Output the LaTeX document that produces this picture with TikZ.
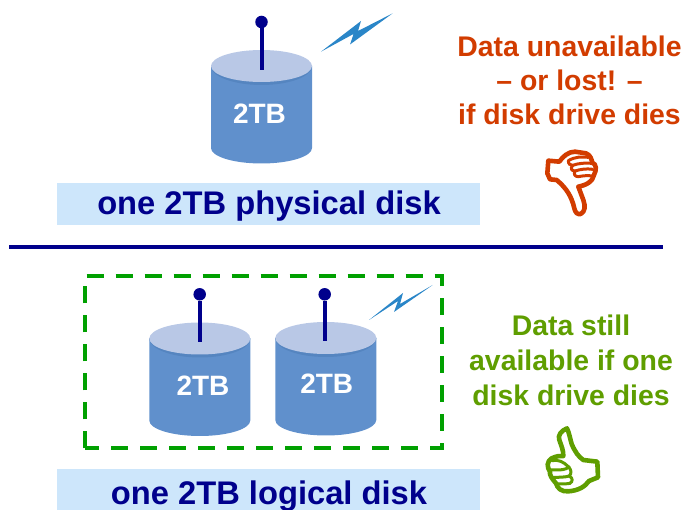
\documentclass[tikz,border=0pt]{standalone}
\usepackage{fontspec}
\setmainfont{Liberation Sans}
\definecolor{navy}{HTML}{00008C}
\definecolor{diskbody}{HTML}{6090CC}
\definecolor{disktop}{HTML}{B9C8E6}
\definecolor{diskrim}{HTML}{5585C0}
\definecolor{band}{HTML}{CDE6FB}
\definecolor{boltblue}{HTML}{2A86C8}
\definecolor{bad}{HTML}{D23C00}
\definecolor{good}{HTML}{5F9E00}
\definecolor{dashgreen}{HTML}{00A000}
\tikzset{
  x=1pt,y=-1pt,
  bandbox/.style={fill=band,draw=none},
  bandtext/.style={font=\bfseries\fontsize{32.7}{33}\selectfont,text=navy,inner sep=0pt},
  disktext/.style={font=\bfseries\fontsize{28}{28}\selectfont,text=white,inner sep=0pt},
  badtext/.style={font=\bfseries\fontsize{28.4}{34}\selectfont,text=bad,align=center,inner sep=0pt},
  goodtext/.style={font=\bfseries\fontsize{28.4}{35}\selectfont,text=good,align=center,inner sep=0pt},
  thumbline/.style={line width=4.6pt,line join=round,line cap=round,fill=white},
  fingerline/.style={line width=3pt,line cap=round},
  antenna/.style={draw=navy,line width=4pt},
  antennatip/.style={circle,fill=navy,inner sep=0pt,minimum size=12.5pt},
  pics/disk/.style={code={
    \fill[diskbody] (-50.5,0) -- (-50.5,82) arc[start angle=180,end angle=0,x radius=50.5,y radius=15.5] -- (50.5,0) -- cycle;
    \fill[diskrim] (-50.5,0) arc[start angle=180,end angle=0,x radius=50.5,y radius=19] -- cycle;
    \fill[disktop] (0,0) ellipse[x radius=50.5,y radius=16];
  }},
}
\begin{document}
\begin{tikzpicture}
\useasboundingbox (0,0) rectangle (683,510);
% top half
\path[bandbox] (57,183) rectangle (480,225);
\node[bandtext] (toplabel) at (269,206) {one 2TB physical disk};
\pic at (261.5,66) {disk};
\node[antennatip] (tip1) at (261.5,22) {};
\coordinate (foot1) at (261.5,70);
\draw[antenna] (tip1) -- (foot1);
\node[disktext] (d1) at (259.5,113.5) {2TB};
\fill[boltblue] (321,51.7) -- (361,21) -- (358,31) -- (392.7,13.3) -- (350,44.5) -- (353.5,34) -- cycle;
\node[badtext] (badmsg) at (569.5,80) {Data unavailable\\– or lost! –\\if disk drive dies};
% thumb down
\begin{scope}[shift={(520,140)},x=0.3333pt,y=-0.3333pt]
\draw[bad,thumbline] (85,62) -- (118,65) .. controls (128,50) and (145,35) .. (165,35) -- (198,40) .. controls (212,45) and (215,60) .. (217,68) .. controls (230,72) and (230,90) .. (222,105) .. controls (218,125) and (200,135) .. (175,140) -- (190,180) .. controls (197,200) and (195,215) .. (182,222) .. controls (172,224) and (166,218) .. (163,205) .. controls (155,170) and (140,145) .. (110,120) -- (90,118) -- (82,100) -- cycle;
\draw[bad,fingerline] (145,62) .. controls (165,50) and (185,50) .. (205,52);
\draw[bad,fingerline] (145,62) .. controls (145,72) and (150,76) .. (158,76) .. controls (175,70) and (195,68) .. (215,70);
\draw[bad,fingerline] (158,76) .. controls (150,85) and (155,93) .. (165,93) .. controls (180,88) and (200,85) .. (218,88);
\draw[bad,fingerline] (165,93) .. controls (160,103) and (165,110) .. (175,110) .. controls (190,107) and (205,106) .. (216,108);
\end{scope}
% divider
\coordinate (divL) at (9,247);
\coordinate (divR) at (663,247);
\draw[navy,line width=3.4pt] (divL) -- (divR);
% bottom half
\draw[dashgreen,line width=3.6pt,dash pattern=on 17pt off 12pt] (84.7,448.3) -- (84.7,276.3) -- (441.7,276.3) -- (441.7,448.3) -- cycle;
\pic at (199.8,338.5) {disk};
\pic at (325.8,338) {disk};
\node[antennatip] (tip2) at (199.7,294.3) {};
\coordinate (foot2) at (199.7,342);
\draw[antenna] (tip2) -- (foot2);
\node[antennatip] (tip3) at (324.7,294.3) {};
\coordinate (foot3) at (324.7,341);
\draw[antenna] (tip3) -- (foot3);
\node[disktext] (d2) at (203,385.7) {2TB};
\node[disktext] (d3) at (326.7,384) {2TB};
\fill[boltblue] (369,320) -- (403,293) -- (400,304) -- (432.7,285) -- (394,312) -- (398,301) -- cycle;
\path[bandbox] (57,469) rectangle (480,510);
\node[bandtext] (botlabel) at (269,496) {one 2TB logical disk};
\node[goodtext] (goodmsg) at (571,360) {Data still\\available if one\\disk drive dies};
% thumb up
\begin{scope}[shift={(520,420)},x=0.3333pt,y=-0.3333pt]
\draw[good,thumbline] (141,25) .. controls (148,40) and (150,55) .. (155,72) .. controls (165,95) and (175,110) .. (190,120) -- (232,125) -- (234,172) -- (207,183) .. controls (195,200) and (175,212) .. (145,214) .. controls (125,216) and (112,205) .. (108,190) .. controls (95,175) and (88,165) .. (90,155) .. controls (80,140) and (80,125) .. (95,115) .. controls (110,108) and (120,107) .. (130,108) .. controls (130,90) and (125,80) .. (118,60) .. controls (112,45) and (125,32) .. (141,25) -- cycle;
\draw[good,fingerline] (95,122) .. controls (115,118) and (130,125) .. (145,140) .. controls (140,150) and (125,150) .. (92,150);
\draw[good,fingerline] (145,140) .. controls (155,150) and (155,160) .. (148,168) .. controls (135,172) and (115,172) .. (100,172);
\draw[good,fingerline] (148,168) .. controls (160,175) and (158,185) .. (150,190) .. controls (140,192) and (125,192) .. (110,192);
\end{scope}
\end{tikzpicture}
\end{document}
